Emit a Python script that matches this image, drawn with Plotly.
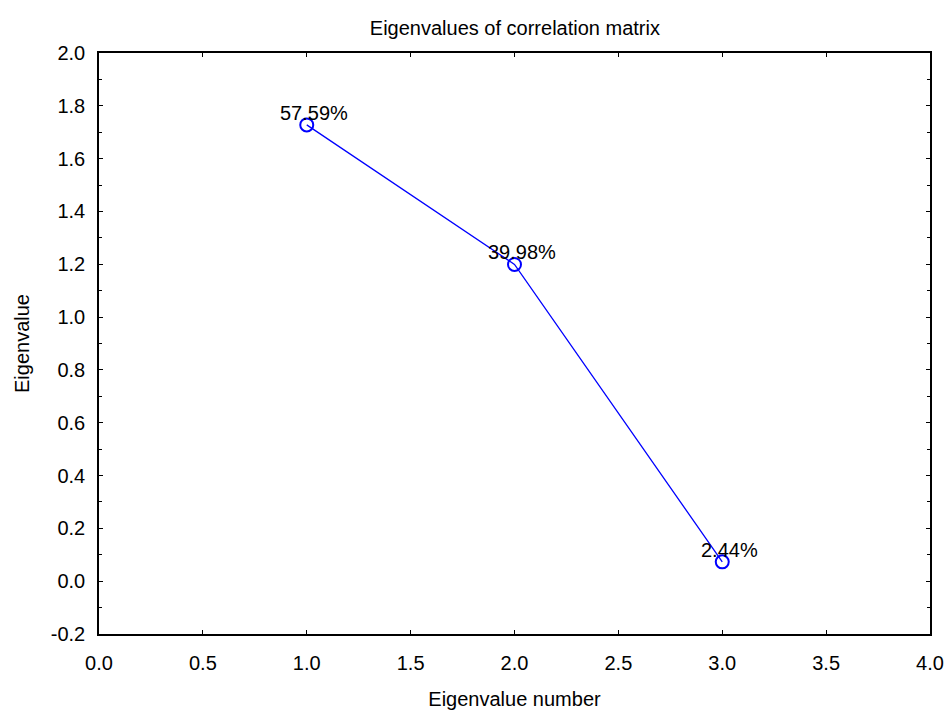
import plotly.graph_objects as go

eig_number = [1, 2, 3]
eigenvalues = [1.7277, 1.1994, 0.0732]
pct_labels = ["57.59%", "39.98%", "2.44%"]

x_tickvals = [0.0, 0.5, 1.0, 1.5, 2.0, 2.5, 3.0, 3.5, 4.0]
x_ticktext = ["0.0", "0.5", "1.0", "1.5", "2.0", "2.5", "3.0", "3.5", "4.0"]
y_tickvals = [-0.2, 0.0, 0.2, 0.4, 0.6, 0.8, 1.0, 1.2, 1.4, 1.6, 1.8, 2.0]
y_ticktext = ["-0.2", "0.0", "0.2", "0.4", "0.6", "0.8", "1.0", "1.2", "1.4", "1.6", "1.8", "2.0"]

FONT = "Liberation Sans, Arial, sans-serif"
FS = 20

fig = go.Figure()
fig.add_trace(go.Scatter(
    x=eig_number, y=eigenvalues, mode="lines+markers",
    line=dict(color="#0000FF", width=1.3),
    marker=dict(symbol="circle-open", size=13, color="#0000FF", line=dict(width=2, color="#0000FF")),
    showlegend=False, hoverinfo="skip",
))

for xv, yv, t in zip(eig_number, eigenvalues, pct_labels):
    fig.add_annotation(x=xv, y=yv, text=t, showarrow=False,
                       xanchor="center", yanchor="middle", xshift=7, yshift=12,
                       font=dict(family=FONT, size=FS, color="black"))

axis_common = dict(
    showline=True, linecolor="black", linewidth=1.5, mirror="ticks",
    ticks="inside", tickcolor="black", tickwidth=1.3, ticklen=4,
    showgrid=False, zeroline=False, automargin=False,
    tickfont=dict(family=FONT, size=FS, color="black"),
)

fig.update_xaxes(range=[0, 4], tickvals=x_tickvals, ticktext=x_ticktext,
                 title=dict(text="Eigenvalue number", font=dict(family=FONT, size=FS, color="black"), standoff=24),
                 ticklabelstandoff=10,
                 **axis_common)
fig.update_yaxes(range=[-0.2, 2.0], tickvals=y_tickvals, ticktext=y_ticktext,
                 minor=dict(ticks="inside", dtick=0.1, tick0=0, ticklen=3, tickcolor="black", tickwidth=1.3),
                 title=dict(text="Eigenvalue", font=dict(family=FONT, size=FS, color="black"), standoff=16),
                 ticklabelstandoff=8,
                 **axis_common)

fig.update_layout(
    width=950, height=710,
    margin=dict(l=99, r=20, t=53, b=76),
    plot_bgcolor="white", paper_bgcolor="white",
    title=dict(text="Eigenvalues of correlation matrix", x=0.542, xanchor="center",
               y=1 - 28 / 710, yanchor="middle",
               font=dict(family=FONT, size=FS, color="black")),
)

fig.write_html("out.html")
